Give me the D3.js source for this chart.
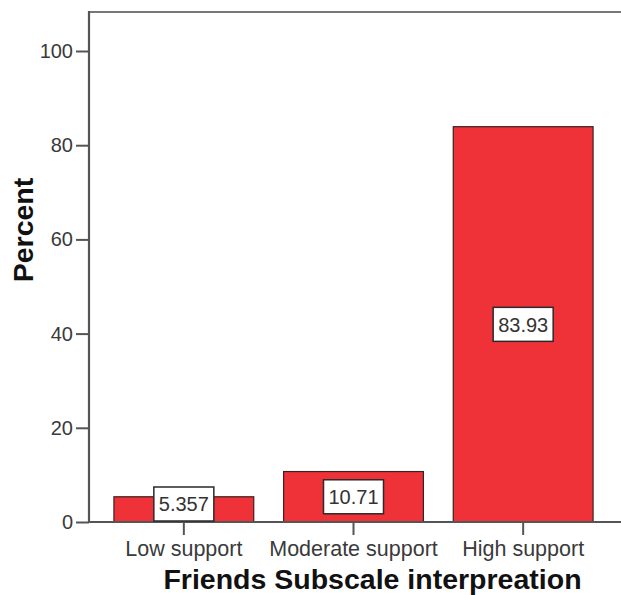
<!DOCTYPE html>
<html>
<head>
<meta charset="utf-8">
<script src="https://cdn.jsdelivr.net/npm/d3@7/dist/d3.min.js"></script>
<style>
  html, body { margin: 0; padding: 0; background: #fff; }
  svg { display: block; }
</style>
</head>
<body>
<script>
// Friends subscale interpretation: percent of respondents per support level
const categories = ["Low support", "Moderate support", "High support"];
const percents = [5.357, 10.71, 83.93];
const valueLabels = ["5.357", "10.71", "83.93"];
const yTickValues = [0, 20, 40, 60, 80, 100];

const W = 621, H = 595;
const FONT = "'Liberation Sans', Arial, sans-serif";

const svg = d3.select("body").append("svg")
  .attr("width", W).attr("height", H);

const frameTop = 12, axisX = 89, axisY = 522;

const y = d3.scaleLinear().domain([0, 100]).range([axisY, 51]);
const x = d3.scaleBand().domain(categories)
  .range([99, 608]).paddingInner(0.176).paddingOuter(0.088);

// plot frame: top border
svg.append("line")
  .attr("x1", axisX).attr("x2", W).attr("y1", frameTop).attr("y2", frameTop)
  .attr("stroke", "#777").attr("stroke-width", 2);

// bars
svg.append("g").selectAll("rect").data(categories).join("rect")
  .attr("x", d => x(d))
  .attr("width", x.bandwidth())
  .attr("y", (d, i) => y(percents[i]))
  .attr("height", (d, i) => axisY - y(percents[i]))
  .attr("fill", "#ef3238")
  .attr("stroke", "#3a2020").attr("stroke-width", 1.2);

// y axis
const yAxis = svg.append("g")
  .attr("transform", `translate(${axisX},0)`)
  .call(d3.axisLeft(y).tickValues(yTickValues).tickSize(13).tickPadding(3).tickFormat(d3.format("d")));
yAxis.select(".domain").remove();
yAxis.selectAll(".tick line").attr("stroke", "#555").attr("stroke-width", 2);
yAxis.selectAll(".tick text")
  .attr("font-family", FONT).attr("font-size", 20).attr("fill", "#3a3a3a");
svg.append("line")
  .attr("x1", axisX).attr("x2", axisX).attr("y1", frameTop - 1).attr("y2", axisY + 1)
  .attr("stroke", "#555").attr("stroke-width", 2.2);

// x axis
const xAxis = svg.append("g")
  .attr("transform", `translate(0,${axisY})`)
  .call(d3.axisBottom(x).tickSize(13).tickPadding(6).tickSizeOuter(0));
xAxis.select(".domain").remove();
xAxis.selectAll(".tick line").attr("stroke", "#555").attr("stroke-width", 2);
xAxis.selectAll(".tick text")
  .attr("font-family", FONT).attr("font-size", 21.5).attr("fill", "#3a3a3a")
  .attr("dy", "0.71em");
svg.append("line")
  .attr("x1", axisX - 1).attr("x2", W).attr("y1", axisY).attr("y2", axisY)
  .attr("stroke", "#555").attr("stroke-width", 2);

// value labels in boxes, centred on each bar
const boxW = 60, boxH = 34;
const lbl = svg.append("g").selectAll("g").data(categories).join("g")
  .attr("transform", (d, i) => {
    const mid = (y(percents[i]) + axisY) / 2;
    const cy = Math.min(mid, axisY - 1 - boxH / 2);
    return `translate(${x(d) + x.bandwidth() / 2},${cy})`;
  });
lbl.append("rect")
  .attr("x", -boxW / 2).attr("y", -boxH / 2)
  .attr("width", boxW).attr("height", boxH)
  .attr("fill", "#fff").attr("stroke", "#2a2a2a").attr("stroke-width", 1.5);
lbl.append("text")
  .attr("text-anchor", "middle").attr("dy", "0.36em")
  .attr("font-family", FONT).attr("font-size", 20).attr("fill", "#333")
  .text((d, i) => valueLabels[i]);

// axis titles
svg.append("text")
  .attr("transform", `translate(33,230) rotate(-90)`)
  .attr("text-anchor", "middle")
  .attr("font-family", FONT).attr("font-weight", "bold").attr("font-size", 28.5)
  .attr("fill", "#111")
  .text("Percent");

svg.append("text")
  .attr("x", 372.5).attr("y", 589)
  .attr("text-anchor", "middle")
  .attr("font-family", FONT).attr("font-weight", "bold").attr("font-size", 28.5)
  .attr("fill", "#111")
  .text("Friends Subscale interpreation");
</script>
</body>
</html>
